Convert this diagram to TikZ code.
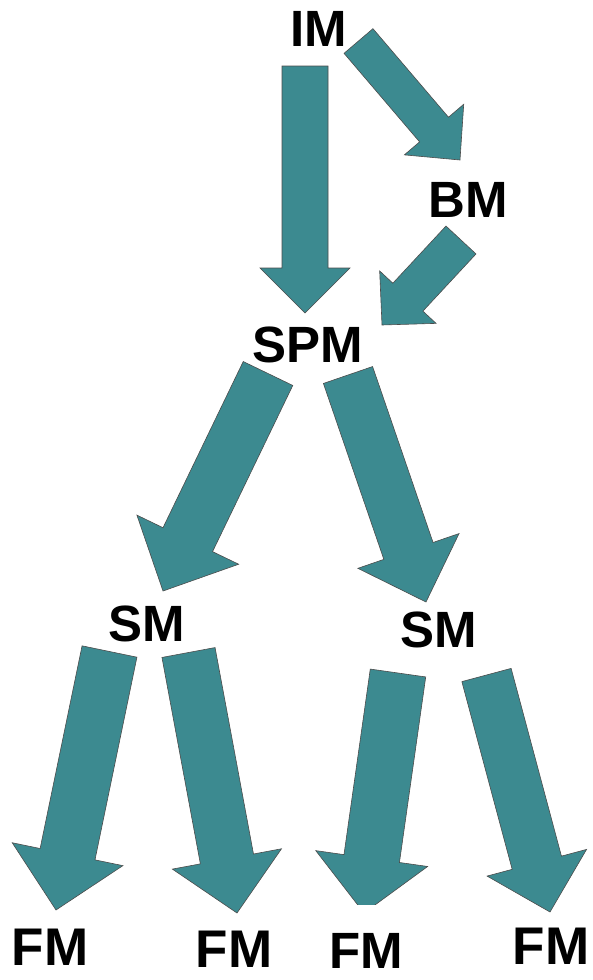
\documentclass[tikz,border=0pt]{standalone}
\usepackage{fontspec}
\setmainfont{Liberation Sans}
\usetikzlibrary{calc}

\definecolor{tealblk}{RGB}{60,138,144}

% tail, tip, half shaft width, half head width, head length
\newcommand{\blockarrow}[5]{%
  \coordinate (hb) at ($(#2)!#5pt!(#1)$);
  \path[blk] ($(#1)!#3pt!90:(#2)$) -- ($(hb)!#3pt!90:(#2)$) -- ($(hb)!#4pt!90:(#2)$)
    -- (#2) -- ($(hb)!#4pt!-90:(#2)$) -- ($(hb)!#3pt!-90:(#2)$) -- ($(#1)!#3pt!-90:(#2)$) -- cycle;
}

\begin{document}
\begin{tikzpicture}[x=1pt, y=-1pt,
        blk/.style = {fill=tealblk, draw=black!70, line width=0.6pt},
        lbl/.style = {font=\bfseries\fontsize{51}{51}\selectfont, inner sep=0pt},
        lblf/.style = {lbl, font=\bfseries\fontsize{53}{53}\selectfont},]
        \useasboundingbox (0,0) rectangle (593,980);

        \node[lbl] (im) at (318.5,28.5) {IM};
        \node[lbl] (bm) at (468.5,199.5) {BM};
        \node[lbl] (spm) at (308,345) {SPM};
        \node[lbl] (sm1) at (146.5,624) {SM};
        \node[lbl] (sm2) at (438.5,630) {SM};
        \node[lblf] (fm1) at (50,947) {FM};
        \node[lblf] (fm2) at (234,949) {FM};
        \node[lbl] (fm3) at (366,951) {FM};
        \node[lblf] (fm4) at (551,946) {FM};

        \coordinate (a1s) at (305,66);    \coordinate (a1e) at (305,313);
        \coordinate (a2s) at (358.5,41);  \coordinate (a2e) at (460,160);
        \coordinate (a3s) at (461,240);   \coordinate (a3e) at (382,325);
        \coordinate (a4s) at (268,373.5); \coordinate (a4e) at (163,591);
        \coordinate (a5s) at (348,375);   \coordinate (a5e) at (426,602);
        \coordinate (a6s) at (109.5,651.5); \coordinate (a6e) at (56,910);
        \coordinate (a7s) at (188.5,652.5); \coordinate (a7e) at (237,913);
        \coordinate (a8s) at (398,673);   \coordinate (a8e) at (364,913);
        \coordinate (a9s) at (486.5,675); \coordinate (a9e) at (550,912);

        \blockarrow{a1s}{a1e}{23}{45}{45}
        \blockarrow{a2s}{a2e}{19}{39}{40}
        \blockarrow{a3s}{a3e}{20.5}{38.5}{38}
        \blockarrow{a4s}{a4e}{27.5}{56.5}{57}
        \blockarrow{a5s}{a5e}{26}{53.5}{54}
        \blockarrow{a6s}{a6e}{28}{56.5}{57}
        \blockarrow{a7s}{a7e}{27}{55.5}{55}
        \begin{scope}
            \clip (0,0) rectangle (593,904);
            \blockarrow{a8s}{a8e}{28}{56.5}{55}
        \end{scope}
        \blockarrow{a9s}{a9e}{25.5}{51.5}{51}
    \end{tikzpicture}
\end{document}
